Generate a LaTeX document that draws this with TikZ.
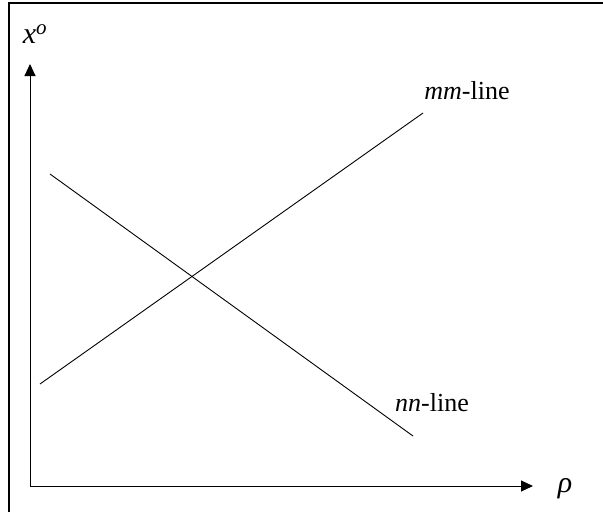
\documentclass[tikz,border=0pt]{standalone}
\usepackage{fontspec}
\setmainfont{Liberation Serif}
\usetikzlibrary{arrows.meta}
\begin{document}
\begin{tikzpicture}[x=1pt,y=-1pt,
  frameline/.style={line width=1.2pt},
  axisline/.style={line width=1pt,-{Triangle[length=12pt,width=11pt]}},
  curveline/.style={line width=0.9pt},
  lbl/.style={inner sep=0pt,font=\fontsize{26}{30}\selectfont},
  biglbl/.style={inner sep=0pt,font=\fontsize{30}{34}\selectfont}]
\useasboundingbox (0,0) rectangle (603,512);
\coordinate (fbl) at (9,512);
\coordinate (ftl) at (9,3);
\coordinate (ftr) at (603,3);
\draw[frameline] (fbl) -- (ftl) -- (ftr);
\coordinate (O) at (30,486);
\coordinate (ytip) at (30,64);
\coordinate (xtip) at (533,486);
\draw[axisline] (O) -- (ytip);
\draw[axisline] (O) -- (xtip);
\coordinate (m1) at (40,384);
\coordinate (m2) at (423,113);
\coordinate (n1) at (50,174);
\coordinate (n2) at (413,436);
\draw[curveline] (m1) -- (m2);
\draw[curveline] (n1) -- (n2);
\node[biglbl] (xo) at (35,34) {\textit{x}\textsuperscript{\textit{o}}};
\node[biglbl] (rho) at (565,489) {\textit{ρ}};
\node[lbl] (mml) at (467,91) {\textit{mm}-line};
\node[lbl] (nnl) at (432,403) {\textit{nn}-line};
\end{tikzpicture}
\end{document}
